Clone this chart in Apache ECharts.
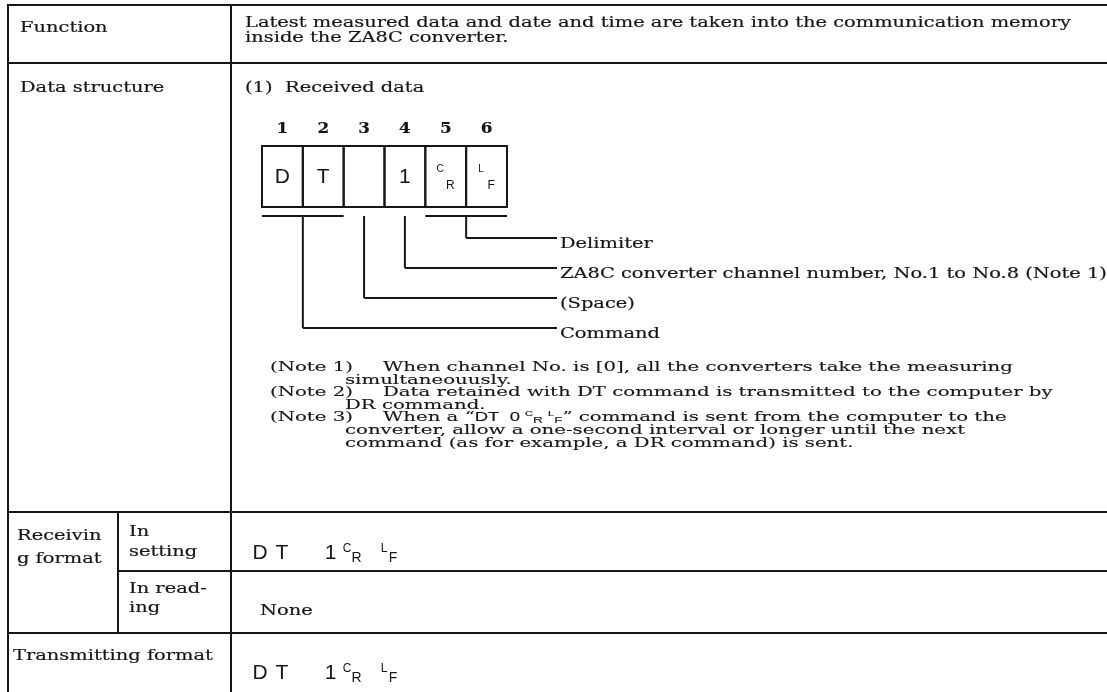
<!DOCTYPE html>
<html><head><meta charset="utf-8">
<script src="https://cdn.jsdelivr.net/npm/echarts@6/dist/echarts.min.js"></script>
<style>html,body{margin:0;padding:0;background:#fff}#c{width:1107px;height:692px}</style>
</head><body><div id="c"></div>
<script>
// ---------------- data (texts only) ----------------
const rowLabels = ['Function', 'Data structure', 'Receivin', 'g format', 'Transmitting format'];
const subRowLabels = [['In', 'setting'], ['In read-', 'ing']];
const functionText = ['Latest measured data and date and time are taken into the communication memory', 'inside the ZA8C converter.'];
const sectionTitle = ['(1)', 'Received data'];
const byteNumbers = ['1', '2', '3', '4', '5', '6'];
const byteCells = ['D', 'T', '', '1', 'CR', 'LF'];
const legendLabels = ['Delimiter', 'ZA8C converter channel number, No.1 to No.8 (Note 1)', '(Space)', 'Command'];
const legendSpans = [[5, 6], [4, 4], [3, 3], [1, 2]];
const noteLabels = ['(Note 1)', '(Note 2)', '(Note 3)'];
const noteLines = [
  ['When channel No. is [0], all the converters take the measuring', 'simultaneouusly.'],
  ['Data retained with DT command is transmitted to the computer by', 'DR command.'],
  ['When a \u201c\u00abDT  0 \u00bb<CR><LF>\u201d command is sent from the computer to the',
   'converter, allow a one-second interval or longer until the next',
   'command (as for example, a DR command) is sent.']
];
const formatChars = ['D', 'T', '1', 'CR', 'LF'];
const readingText = 'None';

// ---------------- layout & style ----------------
const W = 1107, H = 692;
const INK = '#161616';
const SERIF = '"DejaVu Serif", serif';
const SANS = '"Liberation Sans", Arial, sans-serif';
const FS = 16;
const SY = 0.93, SY_NOTE = 0.83;
const mctx = document.createElement('canvas').getContext('2d');
mctx.font = FS + 'px ' + SERIF;
const SX = 826 / mctx.measureText(functionText[0]).width;
const SX_NOTE = SX * 1.015;

const L = { left: 8, top: 5, col: 231, sub: 118, rowF: 63, rowD: 512, rowS: 571, rowT: 633,
  textL: 20, textR: 245 };
const box = { x: 262, y: 146, h: 61, cw: 40.83, numY: 129, bracketY: 216, leadEnd: 557, labelX: 560,
  leadY: [238, 268, 298, 328] };

const els = [];
function line(x1, y1, x2, y2, w) {
  els.push({ type: 'line', silent: true, shape: { x1, y1, x2, y2 }, style: { stroke: INK, lineWidth: w || 2 } });
}
function rect(x, y, w, h) {
  els.push({ type: 'rect', silent: true, shape: { x, y, width: w, height: h }, style: { fill: 'none', stroke: INK, lineWidth: 2 } });
}
function text(str, x, y, o) {
  o = o || {};
  const st = { text: str, x: 0, y: 0, fill: INK,
    font: (o.weight || 'normal') + ' ' + (o.size || FS) + 'px ' + (o.family || SERIF),
    textAlign: o.align || 'left', textVerticalAlign: 'middle' };
  if (o.stroke !== false) { st.stroke = INK; st.lineWidth = o.lw || 0.2; }
  if (o.rich) st.rich = o.rich;
  els.push({ type: 'text', silent: true, x, y, scaleX: o.sx == null ? SX : o.sx,
    scaleY: o.sy == null ? SY : o.sy, style: st });
}
function glyph(ch, x, y, size) { text(ch, x, y, { family: SANS, size, align: 'center', sx: 1, sy: 1, stroke: false }); }
function delim(pair, cx, cy, dx1, dx2, dy1, dy2, s1, s2) {
  glyph(pair[0], cx + dx1, cy + dy1, s1);
  glyph(pair[1], cx + dx2, cy + dy2, s2);
}

// table frame
line(L.left, L.top - 1, L.left, H);
line(L.col, L.top, L.col, H);
line(L.left, L.top, W, L.top);
line(L.left, L.rowF, W, L.rowF);
line(L.left, L.rowD, W, L.rowD);
line(L.sub, L.rowS, W, L.rowS);
line(L.left, L.rowT, W, L.rowT);
line(L.sub, L.rowD, L.sub, L.rowT);

// left labels
text(rowLabels[0], L.textL, 28);
text(rowLabels[1], L.textL, 88);
text(rowLabels[2], 17, 536);
text(rowLabels[3], 17, 559);
text(rowLabels[4], 13, 656);
text(subRowLabels[0][0], 129, 532);
text(subRowLabels[0][1], 129, 552);
text(subRowLabels[1][0], 129, 589);
text(subRowLabels[1][1], 129, 608);

// function text
text(functionText[0], L.textR, 23);
text(functionText[1], L.textR, 38);

// data structure
text(sectionTitle[0], L.textR, 88);
text(sectionTitle[1], 285, 88);
byteNumbers.forEach((n, i) => {
  text(n, box.x + box.cw * (i + 0.5), box.numY, { weight: 'bold', align: 'center', sx: 1.05, sy: 0.95 });
});
byteCells.forEach((c, i) => {
  const cx = box.x + box.cw * (i + 0.5), cy = box.y + box.h / 2;
  rect(box.x + box.cw * i, box.y, box.cw, box.h);
  if (c.length === 2) delim(c, cx, cy, -5.5, 4.5, -7, 9, 10, 12);
  else if (c) glyph(c, cx, cy + 1, 21);
});
legendSpans.forEach((sp, k) => {
  const x0 = box.x + box.cw * (sp[0] - 1), x1 = box.x + box.cw * sp[1];
  const mid = (x0 + x1) / 2, ly = box.leadY[k];
  if (sp[1] > sp[0]) line(x0, box.bracketY, x1, box.bracketY, 2);
  line(mid, box.bracketY, mid, ly, 2);
  line(mid, ly, box.leadEnd, ly, 2);
  text(legendLabels[k], box.labelX, ly + 6);
});

// notes
const noteRich = {
  a: { fontFamily: SANS, fontSize: 15, lineHeight: 18 },
  c: { fontFamily: SANS, fontSize: 9, verticalAlign: 'top', lineHeight: 9 },
  r: { fontFamily: SANS, fontSize: 11, verticalAlign: 'bottom', lineHeight: 11 }
};
function toRich(s) {
  if (!/[\u00ab<]/.test(s)) return null;
  return s.split(/(\u00ab[^\u00bb]*\u00bb|<CR>|<LF>)/).filter(p => p).map(p => {
    if (p[0] === '\u00ab') return '{a|' + p.slice(1, -1) + '}';
    if (p === '<CR>') return '{c|C}{r|R}{a| }';
    if (p === '<LF>') return '{c|L}{r|F}';
    return p;
  }).join('');
}
const noteY = [[368, 381], [393, 406], [418, 431, 444]];
noteLabels.forEach((lab, i) => {
  text(lab, 270, noteY[i][0], { sy: SY_NOTE, sx: SX_NOTE, lw: 0.15 });
  noteLines[i].forEach((ln, j) => {
    const r = toRich(ln);
    const x = j === 0 ? 383 : 345;
    if (r) text(r, x, noteY[i][j], { rich: noteRich, sy: SY_NOTE, sx: SX_NOTE, lw: 0.15 });
    else text(ln, x, noteY[i][j], { sy: SY_NOTE, sx: SX_NOTE, lw: 0.15 });
  });
});

// formats
function format(x0, y0) {
  const offs = [7, 29, 77.5];
  [0, 1, 2].forEach(i => glyph(formatChars[i], x0 + offs[i], y0, 21));
  delim(formatChars[3], x0 + 99, y0, -5, 4.5, -4, 5, 12, 14);
  delim(formatChars[4], x0 + 135, y0, -4, 5, -4, 5, 12, 14);
}
format(253, 553);
text(readingText, 260, 611);
format(253, 673);

const chart = echarts.init(document.getElementById('c'), null, { renderer: 'canvas', width: W, height: H });
chart.setOption({ backgroundColor: '#fff', animation: false, graphic: { elements: els } });
</script></body></html>
